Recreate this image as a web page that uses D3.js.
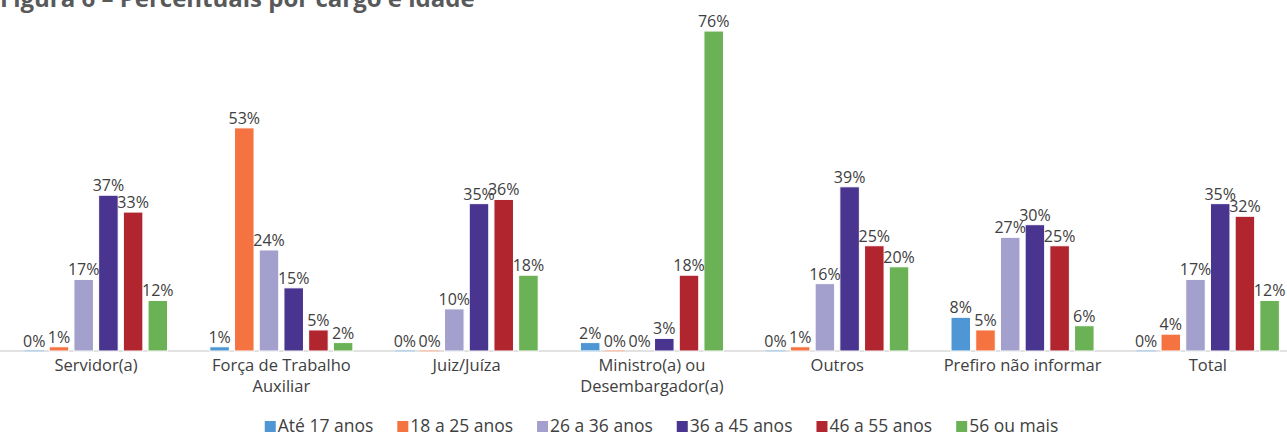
<!DOCTYPE html>
<html>
<head>
<meta charset="utf-8">
<script src="https://cdn.jsdelivr.net/npm/d3@7"></script>
<style>
	html, body { margin: 0; padding: 0; background: #fff; }
	svg { display: block; font-family: "Open Sans", "Noto Sans", sans-serif; }
</style>
</head>
<body>
<script>
// Percentuais por cargo e idade.
var categories = ['Servidor(a)', 'Força de Trabalho|Auxiliar', 'Juiz/Juíza', 'Ministro(a) ou|Desembargador(a)', 'Outros', 'Prefiro não informar', 'Total'];
var ageGroups = ['Até 17 anos', '18 a 25 anos', '26 a 36 anos', '36 a 45 anos', '46 a 55 anos', '56 ou mais'];
var colors = ['#4E97D4', '#F47341', '#A4A0CE', '#49348F', '#B1252F', '#6BB155'];

// values[category][ageGroup], in %.
var values = [
	[0, 1, 17, 37, 33, 12],
	[1, 53, 24, 15, 5, 2],
	[0, 0, 10, 35, 36, 18],
	[2, 0, 0, 3, 18, 76],
	[0, 1, 16, 39, 25, 20],
	[8, 5, 27, 30, 25, 6],
	[0, 4, 17, 35, 32, 12]
];

var title = 'Figura 6 – Percentuais por cargo e idade';

var width = 1287, height = 436;
var baseY = 351;

var svg = d3.select('body').append('svg')
	.attr('width', width)
	.attr('height', height);

// Title is cut off by the top edge in the original.
svg.append('text')
	.attr('x', 0)
	.attr('y', 7)
	.attr('font-size', 24)
	.attr('font-weight', 'bold')
	.attr('fill', '#58595B')
	.text(title);

var x0 = d3.scaleBand()
	.domain(d3.range(categories.length))
	.range([3.4, 3.4 + 7 * 185.3])
	.paddingInner(0.228)
	.paddingOuter(0.114);

var x1 = d3.scaleBand()
	.domain(d3.range(ageGroups.length))
	.range([0, x0.bandwidth()])
	.paddingInner(0.21);

var y = d3.scaleLinear()
	.domain([0, 80])
	.range([baseY, baseY - 80 * 4.21]);

// Baseline.
svg.append('line')
	.attr('x1', 0)
	.attr('x2', width)
	.attr('y1', baseY)
	.attr('y2', baseY)
	.attr('stroke', '#D9D9D9')
	.attr('stroke-width', 1.5);

var groups = svg.selectAll('g.cat')
	.data(values)
	.enter().append('g')
	.attr('class', 'cat')
	.attr('transform', function(d, i) { return 'translate(' + x0(i) + ',0)'; });

groups.selectAll('rect')
	.data(function(d) { return d; })
	.enter().append('rect')
	.attr('x', function(d, j) { return x1(j); })
	.attr('y', function(d) { return y(d); })
	.attr('width', x1.bandwidth())
	.attr('height', function(d) { return Math.max(baseY - y(d), 0); })
	.attr('fill', function(d, j) { return colors[j]; })
	.attr('stroke', '#fff')
	.attr('stroke-width', 1);

// Light tint for the empty ones, like the original shows at the baseline.
groups.selectAll('rect.zero')
	.data(function(d) { return d; })
	.enter().filter(function(d) { return d === 0; })
	.append('rect')
	.attr('class', 'zero')
	.attr('x', function(d, j) { return x1(j); })
	.attr('y', baseY - 1)
	.attr('width', x1.bandwidth())
	.attr('height', 1.5)
	.attr('fill', function(d, j) { return d3.interpolateRgb(colors[j], '#fff')(0.6); });

groups.selectAll('text.val')
	.data(function(d) { return d; })
	.enter().append('text')
	.attr('class', 'val')
	.attr('x', function(d, j) { return x1(j) + x1.bandwidth() / 2; })
	.attr('y', function(d) { return y(d) - 4; })
	.attr('text-anchor', 'middle')
	.attr('font-size', 16)
	.attr('fill', '#404040')
	.text(function(d) { return d + '%'; });

// Category labels, '|' splits lines.
groups.append('text')
	.attr('text-anchor', 'middle')
	.attr('font-size', 16.5)
	.attr('fill', '#404040')
	.selectAll('tspan')
	.data(function(d, i) { return categories[i].split('|'); })
	.enter().append('tspan')
	.attr('x', x0.bandwidth() / 2)
	.attr('y', function(d, k) { return 371 + k * 21; })
	.text(function(d) { return d; });

// Legend, laid out from measured text widths and then centred.
var legend = svg.append('g');
var gap = 24;
var cursor = 0;
ageGroups.forEach(function(name, i) {
	var item = legend.append('g').attr('transform', 'translate(' + cursor + ',0)');
	item.append('rect')
		.attr('x', 0)
		.attr('y', -11)
		.attr('width', 11)
		.attr('height', 11)
		.attr('fill', colors[i]);
	var t = item.append('text')
		.attr('x', 13)
		.attr('y', 0)
		.attr('font-size', 17.5)
		.attr('fill', '#404040')
		.text(name);
	cursor += 13 + t.node().getComputedTextLength() + gap;
});
cursor -= gap;
legend.attr('transform', 'translate(' + (661.5 - cursor / 2) + ',432)');
</script>
</body>
</html>
